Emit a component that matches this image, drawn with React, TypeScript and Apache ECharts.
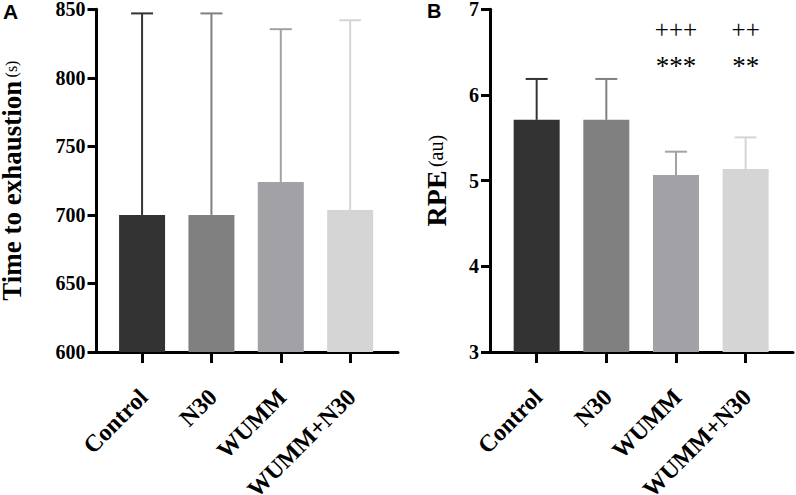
import React, { useEffect, useRef } from 'react';
import * as echarts from 'echarts';

const categories = ['Control', 'N30', 'WUMM', 'WUMM+N30'];
const barColors = ['#333333', '#808080', '#a1a1a6', '#d5d5d5'];
const timeMean = [700, 700, 724, 703.6];
const timeErrTop = [847, 847, 835.5, 842];
const rpeMean = [5.71, 5.71, 5.066, 5.136];
const rpeErrTop = [6.187, 6.187, 5.338, 5.505];
const plusMarks = ['', '', '+++', '++'];
const starMarks = ['', '', '***', '**'];
const plusLevel = 6.767;
const starLevel = 6.333;

const SERIF = 'Liberation Serif';
const LABEL_SHIFT = 0.02;

function makeXAxis(gridIndex: number, min: number, max: number) {
  return {
    type: 'value',
    gridIndex,
    min,
    max,
    axisLine: { show: true, onZero: false, lineStyle: { color: '#000', width: 3 } },
    axisTick: {
      show: true,
      customValues: categories.map((_, i) => i),
      length: 11,
      lineStyle: { color: '#000', width: 3 },
    },
    axisLabel: {
      customValues: categories.map((_, i) => i + LABEL_SHIFT),
      formatter: (v: number) => categories[Math.round(v - LABEL_SHIFT)] ?? '',
      rotate: 45,
      margin: 41,
      color: '#000',
      fontFamily: SERIF,
      fontWeight: 'bold',
      fontSize: 24,
      lineHeight: 24,
    },
    splitLine: { show: false },
  };
}

function makeYAxis(
  gridIndex: number,
  min: number,
  max: number,
  interval: number,
  name: string,
  nameGap: number,
  mainSize: number,
  unitSize: number
) {
  return {
    type: 'value',
    gridIndex,
    min,
    max,
    interval,
    axisLine: { show: true, onZero: false, lineStyle: { color: '#000', width: 3 } },
    axisTick: { show: true, length: 9, lineStyle: { color: '#000', width: 3 } },
    axisLabel: {
      margin: 11,
      color: '#000',
      fontFamily: SERIF,
      fontWeight: 'bold',
      fontSize: 20,
      lineHeight: 18,
    },
    splitLine: { show: false },
    name,
    nameLocation: 'middle',
    nameRotate: 90,
    nameGap,
    nameTextStyle: {
      lineHeight: 24,
      rich: {
        b: {
          fontFamily: SERIF,
          fontWeight: 'bold',
          fontSize: mainSize,
          lineHeight: 24,
          color: '#000',
        },
        r: {
          fontFamily: SERIF,
          fontWeight: 'normal',
          fontSize: unitSize,
          lineHeight: 24,
          color: '#000',
        },
      },
    },
  };
}

function barSeries(idx: number, values: number[]) {
  return {
    type: 'bar',
    xAxisIndex: idx,
    yAxisIndex: idx,
    barWidth: 46,
    clip: true,
    data: values.map((v, i) => ({ value: [i, v], itemStyle: { color: barColors[i] } })),
    z: 2,
  };
}

function errSeries(idx: number, means: number[], tops: number[]) {
  return {
    type: 'custom',
    xAxisIndex: idx,
    yAxisIndex: idx,
    data: means.map((m, i) => [i, m, tops[i]]),
    encode: { x: 0, y: [1, 2] },
    z: 3,
    renderItem: (params: any, api: any) => {
      const i = api.value(0);
      const b = api.coord([i, api.value(1)]);
      const t = api.coord([i, api.value(2)]);
      const color = barColors[params.dataIndex];
      return {
        type: 'group',
        children: [
          {
            type: 'line',
            shape: { x1: b[0], y1: b[1], x2: t[0], y2: t[1] },
            style: { stroke: color, lineWidth: 2 },
          },
          {
            type: 'line',
            shape: { x1: t[0] - 11, y1: t[1], x2: t[0] + 11, y2: t[1] },
            style: { stroke: color, lineWidth: 2 },
          },
        ],
      };
    },
  };
}

function markSeries(idx: number, marks: string[], level: number, size: number) {
  return {
    type: 'custom',
    xAxisIndex: idx,
    yAxisIndex: idx,
    data: marks.map((m, i) => [i, level, m]),
    encode: { x: 0, y: 1 },
    z: 4,
    renderItem: (params: any, api: any) => {
      const p = api.coord([api.value(0), api.value(1)]);
      const text = marks[params.dataIndex];
      return {
        type: 'text',
        x: p[0],
        y: p[1],
        style: {
          text,
          fontFamily: SERIF,
          fontSize: size,
          fontWeight: 'normal',
          fill: '#000',
          align: 'center',
          verticalAlign: 'middle',
          textAlign: 'center',
          textVerticalAlign: 'middle',
        },
      };
    },
  };
}

export default function App() {
  const ref = useRef<HTMLDivElement>(null);
  useEffect(() => {
    if (!ref.current) return;
    const chart = echarts.init(ref.current, null, { renderer: 'svg' });
    chart.setOption({
      animation: false,
      backgroundColor: '#ffffff',
      grid: [
        {
          left: 96.5,
          top: 9.3,
          width: 301.5,
          height: 342.7,
          containLabel: false,
          outerBoundsMode: 'none',
        },
        {
          left: 490,
          top: 9.3,
          width: 303,
          height: 342.7,
          containLabel: false,
          outerBoundsMode: 'none',
        },
      ],
      xAxis: [makeXAxis(0, -0.657, 3.69), makeXAxis(1, -0.67, 3.68)],
      yAxis: [
        makeYAxis(0, 600, 850, 50, '{b|Time to exhaustion} {r|(s)}', 73, 27, 16),
        makeYAxis(1, 3, 7, 1, '{b|RPE} {r|(au)}', 42, 28, 20),
      ],
      graphic: [
        {
          type: 'text',
          left: 3,
          top: 1,
          style: { text: 'A', font: 'bold 21px "Liberation Sans"', fill: '#000' },
        },
        {
          type: 'text',
          left: 427,
          top: 1,
          style: { text: 'B', font: 'bold 20px "Liberation Sans"', fill: '#000' },
        },
      ],
      series: [
        barSeries(0, timeMean),
        errSeries(0, timeMean, timeErrTop),
        barSeries(1, rpeMean),
        errSeries(1, rpeMean, rpeErrTop),
        markSeries(1, plusMarks, plusLevel, 25),
        markSeries(1, starMarks, starLevel, 27),
      ],
    });
    return () => chart.dispose();
  }, []);
  return (
    <div
      ref={ref}
      style={{ position: 'fixed', left: 0, top: 0, width: 796, height: 495, background: '#fff' }}
    />
  );
}
